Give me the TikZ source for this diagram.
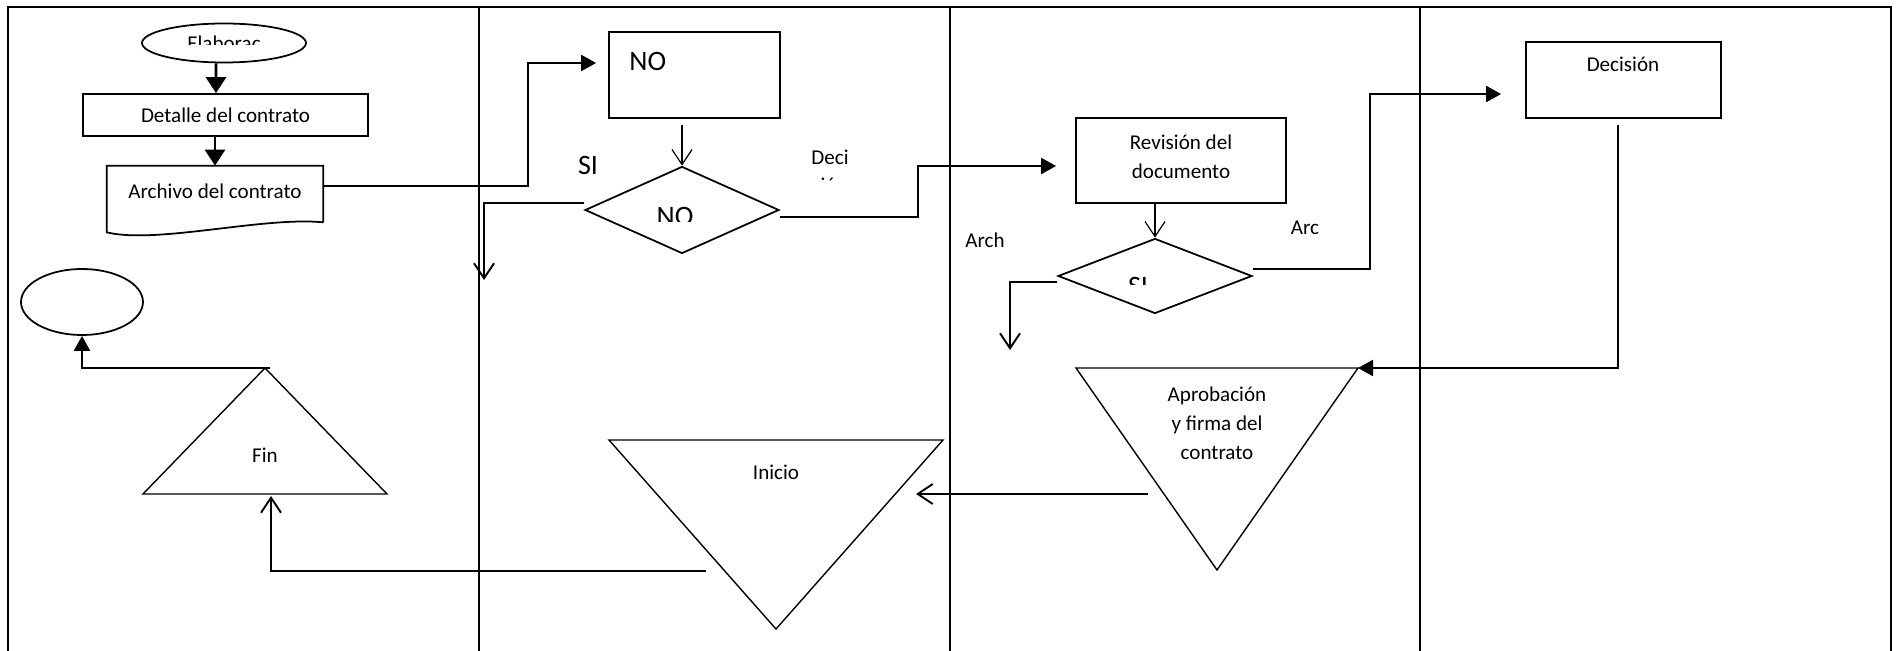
\documentclass[tikz,border=0pt]{standalone}
\usepackage{fontspec}
\setmainfont{Carlito}
\usetikzlibrary{arrows.meta,shapes.geometric}

\begin{document}
\begin{tikzpicture}[
  x=0.02cm,y=-0.02cm,
  font=\fontsize{12}{16.5}\selectfont,
  frame/.style={line width=1.3pt},
  box/.style={draw,line width=1pt,inner sep=0pt,align=center},
  oval/.style={draw,ellipse,line width=1pt,inner sep=0pt},
  dia/.style={draw,diamond,line width=1pt,inner sep=0pt},
  tri/.style={line width=0.8pt,line join=miter},
  txt/.style={inner sep=0pt,align=center},
  big/.style={inner sep=0pt,font=\fontsize{16}{19}\selectfont},
  conn/.style={line width=1.1pt},
  arr/.style={conn,-{Triangle[length=0.3cm,width=0.32cm]}},
  arrb/.style={line width=1.7pt,-{Triangle[length=0.32cm,width=0.4cm]}},
  arro/.style={conn,-{Straight Barb[length=0.3cm,width=0.4cm]}}
]
\useasboundingbox (0,0) rectangle (1898,651);

% lanes
\draw[frame] (8,651) -- (8,7) -- (1891,7) -- (1891,651);
\foreach \x in {479,950,1420}
  \draw[frame] (\x,7) -- (\x,651);

% lane 1
\node[oval,minimum width=3.28cm,minimum height=0.78cm] (elab) at (224,43) {};
\begin{scope}
  \clip (142,20) rectangle (306,45);
  \node[txt,anchor=base] (elab-t) at (224,51) {Elaborac};
\end{scope}
\node[box,minimum width=5.7cm,minimum height=0.84cm] (detalle) at (225.5,115) {Detalle del contrato};
\node[minimum width=4.32cm,minimum height=1.12cm,inner sep=0pt] (archivo) at (215,194) {};
\draw[line width=1pt] (archivo.south east) -- (archivo.north east) -- (archivo.north west)
  -- ([yshift=-0.2cm]archivo.south west) .. controls +(50,12) and +(-60,-6) .. (archivo.south east);
\node[txt] (archivo-t) at (215,191) {Archivo del contrato};

\node[oval,minimum width=2.44cm,minimum height=1.32cm] (endell) at (82,302) {};
\coordinate (fin-top) at (265,368);
\coordinate (fin-l) at (143,494);
\coordinate (fin-r) at (387,494);
\draw[tri] (fin-top) -- (fin-r) -- (fin-l) -- cycle;
\node[txt] (fin) at (265,455) {Fin};

% lane 2
\node[box,minimum width=3.42cm,minimum height=1.72cm] (nobox) at (694.5,75) {};
\node[big,anchor=west] (nobox-t) at (629,61) {NO};
\node[dia,minimum width=3.88cm,minimum height=1.74cm] (dia1) at (682,210) {};
\begin{scope}
  \clip (600,190) rectangle (760,222);
  \node[big,anchor=base] (dia1-t) at (675,226) {NO};
\end{scope}
\node[big] (si1) at (588,165) {SI};
\begin{scope}
  \clip (790,140) rectangle (870,181);
  \node[txt,anchor=base] (deci) at (830,193) {Deci\\sión};
\end{scope}
\coordinate (inicio-tl) at (609,440);
\coordinate (inicio-tr) at (943,440);
\coordinate (inicio-b) at (776,629);
\draw[tri] (inicio-tl) -- (inicio-tr) -- (inicio-b) -- cycle;
\node[txt] (inicio) at (776,472) {Inicio};
\coordinate (si-end) at (484,280);
\coordinate (ini-out) at (706,571);
\coordinate (fin-in) at (271,496);

% lane 3
\node[box,minimum width=4.2cm,minimum height=1.7cm] (revision) at (1181,160.5) {};
\node[txt] (revision-t) at (1181,157) {Revisión del\\documento};
\node[dia,minimum width=3.88cm,minimum height=1.5cm] (dia2) at (1155,276) {};
\begin{scope}
  \clip (1100,270) rectangle (1200,285);
  \node[big,anchor=base] (dia2-t) at (1138,296) {SI};
\end{scope}
\node[txt] (arch) at (985,240) {Arch};
\node[txt] (arc) at (1305,228) {Arc};
\coordinate (apr-tl) at (1076,368);
\coordinate (apr-tr) at (1358,368);
\coordinate (apr-b) at (1217,570);
\draw[tri] (apr-tl) -- (apr-tr) -- (apr-b) -- cycle;
\node[txt] (aprob) at (1217,423) {Aprobación\\y firma del\\contrato};
\coordinate (arch-end) at (1010,350);
\coordinate (apr-out) at (1148,494);
\coordinate (ini-in) at (916,494);

% lane 4
\node[box,minimum width=3.9cm,minimum height=1.52cm] (decision) at (1623.5,80) {};
\node[txt,anchor=base] (decision-t) at (1623,72) {Decisión};

% connectors
\draw[arrb] ([xshift=-0.16cm]elab.south) -- ([xshift=-0.19cm]detalle.north);
\draw[arrb] (detalle.south -| archivo.north) -- (archivo.north);
\draw[arr] ([xshift=0.1cm]fin-top) -| (endell.south);
\draw[arr] ([yshift=0.16cm]archivo.east) -- ++(205,0) |- ([xshift=-0.24cm,yshift=0.24cm]nobox.west);
\draw[arro,line width=0.7pt] ([yshift=-0.12cm]nobox.south -| dia1.north) -- (dia1.north);
\draw[arro] ([yshift=0.14cm]dia1.west) -| (si-end);
\draw[arr] ([yshift=-0.14cm]dia1.east) -- ++(138,0) |- ([xshift=-0.38cm,yshift=-0.11cm]revision.west);
\draw[arro] (ini-out) -| (fin-in);
\draw[arro,line width=0.7pt] (revision.south -| dia2.north) -- (dia2.north);
\draw[arro] ([yshift=-0.12cm]dia2.west) -| (arch-end);
\draw[arr] ([yshift=0.14cm]dia2.east) -- ++(117,0) |- ([xshift=-0.48cm,yshift=-0.28cm]decision.west);
\draw[arro] (apr-out) -- (ini-in);
\draw[arr] ([xshift=-0.11cm,yshift=-0.12cm]decision.south) |- (apr-tr);
\end{tikzpicture}
\end{document}
